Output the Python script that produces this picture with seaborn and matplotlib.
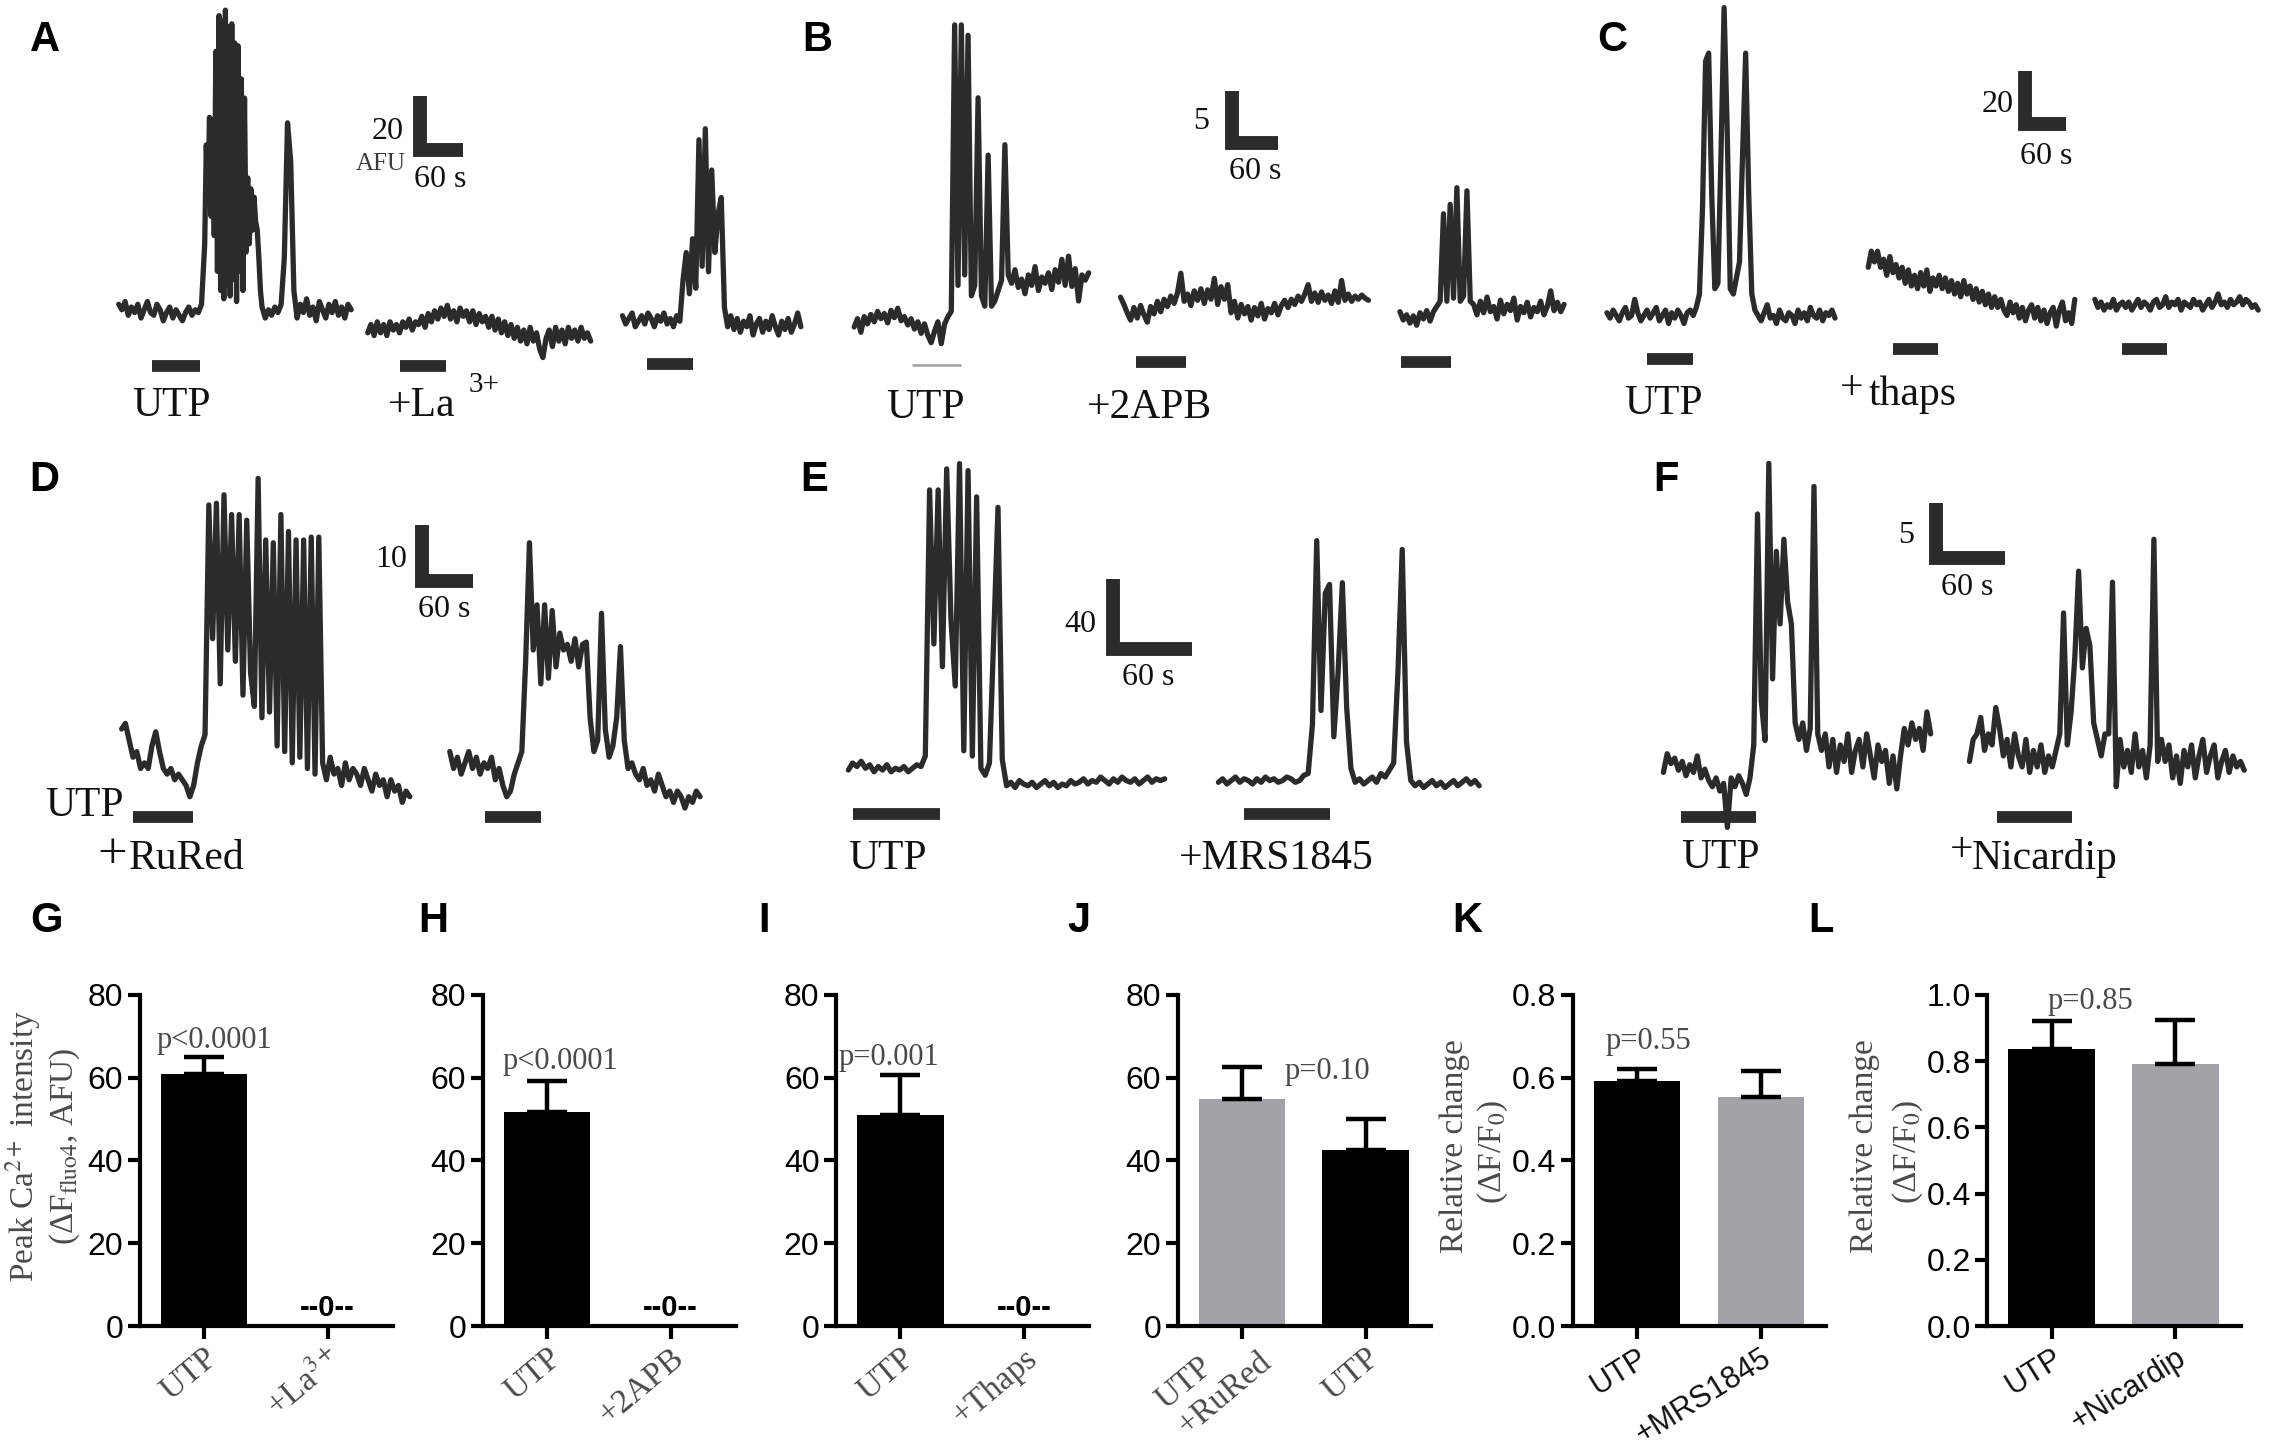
import numpy as np
import pandas as pd
import matplotlib
matplotlib.use("Agg")
import matplotlib.pyplot as plt
import seaborn as sns
from matplotlib import font_manager as fm

sns.set_style("white")
_names = {f.name for f in fm.fontManager.ttflist}
SERIF = "Liberation Serif"
SANS = "Liberation Sans"
NARROW = "Liberation Sans Narrow" if "Liberation Sans Narrow" in _names else "Liberation Sans"
plt.rcParams["font.family"] = [SANS, "DejaVu Sans"]
plt.rcParams["mathtext.fontset"] = "stix"

# ------------------------------------------------------------------ data
# Ca2+ traces: values in AFU relative to each trace's resting level,
# sampled at a fixed interval (seconds) per panel.
dt_A, dt_B, dt_C, dt_D, dt_E, dt_F = 4.4, 4.45, 4.53, 4.44, 3.21, 3.25
dt_A_burst = 2.2

trace_A_utp_pre = [3, 1, 4, -1, 2, 0, 3, -2, 1, 4, 0, -1, 3, 1, -3, 0, 2, -2, 1, -1, -3, 0, 2, -1, 1, 0, 3]
trace_A_utp_burst = [25, 61, 40, 71, 35, 70, 28, 95, 15, 108, 8, 106, 5, 110, 10, 104, 6, 105, 12,
                     98, 4, 97, 15, 85, 8, 78, 22, 49, 25, 45, 30, 42, 33, 30, 20, 8, 2]
trace_A_utp_post = [-2, 1, -1, 2, 0, 3,
                    20, 69, 55, 8,
                    -2, 3, 0, 5, -1, 2, -3, 4, 1, -2, 3, 0, 4, -1, 2, -2, 3, 1]
trace_A_la = [0, 3, -1, 4, 0, 3, -1, 4, 1, 3, 0, 4, 2, 5, 1, 4,
              3, 6, 2, 7, 4, 8, 5, 9, 6, 10, 5, 8, 4, 9, 6,
              8, 4, 8, 3, 7, 4, 6, 2, 6, 1, 5, 0, 4, -1,
              3, -2, 2, -3, 1, -4, 2, -3, 0, -6, -9, -2, 1, -5, 2,
              -3, 1, -4, 2, -2, 1, -3, 2, -2, 0, -3]
trace_A_wash = [2, -1, 1, 3, -2, 0, 2, -1, 3, 1, -2, 2, 0, 3, -1, 1, -2, 2, 0,
                15, 25, 10, 30, 12, 66, 20, 70, 18, 55, 25, 39, 45, 5,
                -2, 2, -3, 1, -4, 0, -2, 2, -5, -1, 1, -4, 0, -3, 2, -2, -5, 0, -3, 1, -4, -1, 3, -2]

trace_B_utp = [0, 0.8, -0.5, 1.0, 0.3, 1.2, 0.5, 1.5, 0.8, 1.3, 0.4, 1.6, 0.9, 1.8, 0.6, 1.0, 0.2, 0.8,
               -0.2, 0.5, -0.6, 0.3, -0.8, -1.5, -0.4, 0.5,
               -1.6, 0.3, 1.0, 1.5,
               29, 4, 29, 5, 28, 3, 4, 22, 3, 2, 16.5, 2, 2.5, 3.5, 4.5, 17.5, 5,
               4.2, 5.5, 3.8, 4.6, 3.2, 5.0, 4.0, 5.8, 3.5, 4.8, 4.2, 5.2, 3.6, 5.5, 4.3, 6.5,
               4.0, 6.8, 3.9, 5.6, 2.5, 5.0, 4.5, 5.2]
trace_B_2apb = [1.2, 0.5, -0.3, -1.0, 0.2, -0.8, 0.4, -0.5, -1.2, 0.3, -0.4, 0.8, -0.2, 1.0, 0.3, 1.3, 0.6, 1.6,
                3.5, 0.8, 1.5, 0.4, 1.8, 0.9, 2.0, 0.6, 1.9, 1.0, 3.0, 0.5, 2.2, 1.0, 2.4, -0.3,
                0.8, -0.8, 0.5, -0.4, 0.3, -1.0, 0.2, -0.6, 0.6, -0.9, 0.1, -0.3, 0.6, -0.5, 0.4,
                0.9, 0.2, 1.0, 0.5, 1.3, 0.8, 1.5, 2.4, 0.8, 1.6, 0.7, 1.7, 0.9, 1.4, 0.6, 1.8, 0.7,
                2.8, 0.9, 1.5, 0.8, 1.3, 1.0, 1.4, 1.1, 0.9]
trace_B_wash = [0.5, -0.3, 0.2, -0.6, 0.1, -0.8, 0.4, -0.2, 0.6, -0.4, 0.5, 1.0, 1.5,
                9.9, 1.5, 10.8, 1.8, 12.4, 1.5, 2.0, 12.1, 1.5,
                1.2, 0.2, 1.5, 0.4, 1.9, 0.5, 1.0, -0.2, 1.6, 0.3, 1.2, 0.6, 1.8, -0.3,
                1.0, 0.4, 1.4, 0.0, 0.9, 0.5, 1.5, 0.2, 1.0, 2.5, 0.6, 1.4, 0.5, 1.2]

trace_C_utp = [1, -1, 2, 0, -2, 1, 3, -1, 0, 6, 1, -2, 0, 2, -1, 1, 3, -2, 0, 2,
               -3, 1, -1, 2, 0, -3, 1, 2, 0, 3,
               8, 40, 95, 98, 45, 10, 12, 60, 115, 70, 10, 8, 14, 20, 60, 98, 45, 8, 2,
               0, -2, 1, 4, -1, 0, -3, 2, -1, -2, 1, 0, -3, 2, -1, 1, -2, 3, 0, -1, 2, -2, 1, 0, 2, -1]
trace_C_thaps = [18, 24, 20, 24, 18, 21, 15, 22, 16, 19, 14,
                 18, 12, 17, 11, 15, 10, 16, 11, 17, 9, 14, 11, 15, 10, 14,
                 9, 13, 8, 12, 7, 13, 8, 11, 6, 10, 5, 9, 4, 8, 3,
                 7, 3, 6, 2, 0, 5, 1, 4, -1, 3, -2, 2, 4, -1, 3,
                 -2, 2, -3, 1, 3, -4, 2, 5, -2, 1, -3, 6]
trace_C_wash = [6, 3, 5, 2, 4, 3, 6, 2, 4, 5, 3, 5, 2, 4, 6, 3, 5, 4, 2, 5,
                6, 3, 4, 7, 3, 5, 4, 6, 2, 5, 4, 3, 6, 4, 5, 2, 4, 6, 3, 5,
                8, 4, 5, 3, 6, 4, 5, 7, 4, 6, 5, 3, 4, 2]

trace_D_rured = [8, 9, 6, 3, 4, 1, 2, 1, 5, 7.5, 4, 1, 0, 1, -1, 0, -1, -2, -4, -2, 2, 5, 7,
                 47.7, 24, 48, 16, 49.5, 22, 46, 20, 46, 14, 45, 18, 12, 52.4, 10, 41.5, 11, 41, 5,
                 46, 4, 43, 2, 41.5, 3, 41.5, 1, 42, 0, 42,
                 2, -1, 3, 0, 1, -2, 2, -1, 1, 0, -2, 1, -1, -3, 0, -2, -1, -4, -1, -3, -2, -5, -3, -4]
trace_D_wash = [4, 1, 3, 0, 2, 4, 1, 3, 0, 2, 1, 3, -1, 1, -2, -4, -3, 0,
                2, 4, 20, 41, 22, 30, 16, 30, 17, 29, 19, 25, 22, 23, 20, 24, 19, 23, 23.4, 10, 4, 6,
                28.5, 8, 3, 5, 10, 22.6, 6, 1,
                2, 0, -1, 1, -2, -1, -3, 0, -2, -4, -3, -5, -3, -4, -6, -4, -5, -3, -4]

trace_E_utp = [4, 8, 6, 9, 5, 7, 3, 6, 4, 7, 3, 5, 4, 6, 3, 5, 7, 6,
               12, 164, 76, 164, 63, 176, 90, 52, 179, 15, 175, 12, 160, 5, 1, 8, 80, 154, 10,
               -5, -3, -6, -2, -4, -5, -3, -6, -4, -2, -5, -3, -6, -4, -5, -2, -4, -3, -1,
               -4, -2, -3, 0, -2, -4, -1, -3, 0, -2, -3, -1, -4, -2, 0, -3, -1, -2, -1]
trace_E_mrs = [-3, -1, -4, -2, 0, -3, -1, -2, -4, -1, -3, 0, -2, -1, -3, -2, 0, -1, -3, -2, 1,
               2, 30, 135, 38, 105, 110, 23, 60, 111, 40, 5, -3,
               -1, -4, -2, 0, -3, 2, 0, 4, 8,
               60, 130, 20, -2,
               -5, -3, -6, -4, -2, -5, -3, -6, -4, -2, -5, -3, -1, -4, -2, -5]

trace_F_utp = [-0.5, 1.2, 0.3, 0.8, -0.3, 0.5, -0.8, 0.2, -0.5, 1.0, -1.0, -0.2, -1.2, -1.8, -1.0,
               -2.2, -1.5, -5.5, -1.0, -1.8, -0.8, -1.5, -2.5, -1.0,
               2, 23, 6, 2.4, 27.6, 8, 19.6, 13, 20.7, 15, 13, 4,
               2.5, 4.0, 1.5, 3.5, 25.5, 3,
               1.5, 3.0, 0.0, 2.5, -0.5, 2.0, 0.5, 3.0, -0.5, 1.5, 2.5, 0.0, 3.0, 1.0, -1.0,
               2.0, 0.5, 1.5, -1.5, 1.0, -2.0, 1.0, 3.5, 2.0, 4.0, 2.5, 3.5, 1.5, 5.0, 3.0]
trace_F_nic = [0.5, 2.5, 3.0, 4.5, 1.5, 3.0, 2.0, 5.4, 3.5, 1.0, 2.5, 0.0, 3.0, 1.0, 0.0, 2.5,
               -0.5, 1.5, 0.0, 2.0, -0.5, 1.0, 0.0, 1.5,
               3.0, 14.0, 2.0, 5.0, 10.0, 17.8, 9.0, 12.6, 11.0, 4.0,
               2.5, 1.0, 3.0, 3.0, 16.8, -1.8,
               2.5, 0.0, 1.5, -0.5, 3.0, 0.0, 1.5, -1.0, 2.0, 20.7, 0.5,
               2.5, 0.5, 2.0, -1.0, 1.0, -1.5, 1.5, 0.0, 2.0, -1.0, 1.0, 2.5, -0.5, 1.0, 2.0,
               -1.0, 0.5, 1.5, -0.5, 1.0, 0.0, 0.5, -0.3]

# summary bar charts
G_groups = ["UTP", "+La3+"];          G_values = [60.8, 0.0];    G_err = [4.2, 0.0]
H_groups = ["UTP", "+2APB"];          H_values = [51.8, 0.0];    H_err = [7.3, 0.0]
I_groups = ["UTP", "+Thaps"];         I_values = [51.0, 0.0];    I_err = [9.7, 0.0]
J_groups = ["UTP\n+RuRed", "UTP"];    J_values = [54.8, 42.5];   J_err = [7.7, 7.6]
K_groups = ["UTP", "+MRS1845"];       K_values = [0.592, 0.554]; K_err = [0.028, 0.061]
L_groups = ["UTP", "+Nicardip"];      L_values = [0.835, 0.792]; L_err = [0.085, 0.133]
p_labels = ["p<0.0001", "p<0.0001", "p=0.001", "p=0.10", "p=0.55", "p=0.85"]
ticks_afu = [0, 20, 40, 60, 80]
ticks_K = [0.0, 0.2, 0.4, 0.6, 0.8]
ticks_L = [0.0, 0.2, 0.4, 0.6, 0.8, 1.0]

# ------------------------------------------------------------------ layout helpers
W, H = 1568.0, 1000.0
fig = plt.figure(figsize=(22.70, 14.47), dpi=100)
fig.patch.set_facecolor("white")

TRACE = "#2b2b2b"
BLACK = "#000000"
GREY = "#a3a3a7"
TXT_GREY = "#4a4a4a"
TRACE_LW = 3.8


def fx(x):
    return x / W


def fy(y):
    return 1.0 - y / H


def txt(x, y, s, size, family=SERIF, color="#111111", ha="left", va="baseline", **kw):
    fig.text(fx(x), fy(y), s, fontsize=size, family=family, color=color, ha=ha, va=va, **kw)


def trace_axes():
    ax = fig.add_axes([0, 0, 1, 1])
    ax.axis("off")
    ax.patch.set_alpha(0)
    return ax


def draw_pieces(ax, pieces, x0, base, px_s, px_afu):
    """pieces: list of (values, dt) drawn as one continuous trace."""
    ts, ys = [], []
    t_next = x0 / px_s
    prev_dt = None
    for vals, dt in pieces:
        v = np.asarray(vals, float)
        if prev_dt is not None:
            t_next += max(prev_dt, dt) - prev_dt
        t = t_next + dt * np.arange(len(v))
        ts.append(t)
        ys.append((H - base) / px_afu + v)
        t_next = t[-1] + dt
        prev_dt = dt
    sns.lineplot(x=np.concatenate(ts), y=np.concatenate(ys), ax=ax, color=TRACE,
                 linewidth=TRACE_LW, estimator=None, sort=False, legend=False)


def draw_trace(ax, vals, dt, x0, base, px_s, px_afu):
    draw_pieces(ax, [(vals, dt)], x0, base, px_s, px_afu)


def stim(ax, xa, xb, y, px_s, px_afu, lw=8.5, color=TRACE):
    ax.plot([xa / px_s, xb / px_s], [(H - y) / px_afu] * 2, color=color, lw=lw,
            solid_capstyle="butt")


def scale_bar(ax, cx, cy, afu, px_s, px_afu, sec=60):
    x0 = cx / px_s
    y0 = (H - cy) / px_afu
    ax.plot([x0, x0, x0 + sec], [y0 + afu, y0, y0], color=TRACE, lw=10,
            solid_joinstyle="miter", solid_capstyle="butt")


def finish(ax, px_s, px_afu):
    ax.set_xlim(0, W / px_s)
    ax.set_ylim(0, H / px_afu)


# ------------------------------------------------------------------ panel A
s, a = 0.5, 1.9
ax = trace_axes()
draw_pieces(ax, [(trace_A_utp_pre, dt_A), (trace_A_utp_burst, dt_A_burst),
                 (trace_A_utp_post, dt_A)], 82, 216, s, a)
draw_trace(ax, trace_A_la, dt_A, 254, 230, s, a)
draw_trace(ax, trace_A_wash, dt_A, 430, 222, s, a)
stim(ax, 105, 138, 253, s, a)
stim(ax, 276, 308, 253, s, a)
stim(ax, 447, 479, 251.5, s, a)
scale_bar(ax, 290, 104, 20, s, a)
finish(ax, s, a)
txt(279, 95.8, "20", 23, ha="right")
txt(280, 117.6, "AFU", 18, ha="right", color="#3a3a3a")
txt(286, 129, "60 s", 23)
txt(91, 287.5, "UTP", 30)
txt(268, 287.5, "+La", 30)
txt(324, 271, "3+", 21)

# ------------------------------------------------------------------ panel B
s, a = 0.52, 7.2
ax = trace_axes()
draw_trace(ax, trace_B_utp, dt_B, 590, 226, s, a)
draw_trace(ax, trace_B_2apb, dt_B, 774, 214, s, a)
draw_trace(ax, trace_B_wash, dt_B, 967, 219, s, a)
stim(ax, 630, 664, 252, s, a, lw=1.8, color="#a0a0a0")
stim(ax, 785, 819, 250.5, s, a)
stim(ax, 967.5, 1002, 250.5, s, a)
scale_bar(ax, 851.3, 98.7, 5, s, a)
finish(ax, s, a)
txt(835, 89, "5", 23, ha="right")
txt(849, 124, "60 s", 23)
txt(612, 288.7, "UTP", 30)
txt(751, 288.7, "+2APB", 30)

# ------------------------------------------------------------------ panel C
s, a = 0.47, 1.85
ax = trace_axes()
draw_trace(ax, trace_C_utp, dt_C, 1110, 218, s, a)
draw_trace(ax, trace_C_thaps, dt_C, 1290.5, 218, s, a)
draw_trace(ax, trace_C_wash, dt_C, 1447, 218, s, a)
stim(ax, 1137.6, 1169.5, 248, s, a)
stim(ax, 1307.8, 1339, 241, s, a)
stim(ax, 1466, 1497, 241, s, a)
scale_bar(ax, 1399, 86, 20, s, a)
finish(ax, s, a)
txt(1391, 77.4, "20", 23, ha="right")
txt(1395, 113.2, "60 s", 23)
txt(1122, 286.4, "UTP", 30)
txt(1271, 275.5, "+", 30)
txt(1291, 280, "thaps", 30)

# ------------------------------------------------------------------ panel D
s, a = 0.59, 3.9
ax = trace_axes()
draw_trace(ax, trace_D_rured, dt_D, 84, 535, s, a)
draw_trace(ax, trace_D_wash, dt_D, 310.7, 535, s, a)
stim(ax, 92, 133, 564.5, s, a)
stim(ax, 335, 374, 564.5, s, a)
scale_bar(ax, 291.6, 401.6, 10, s, a)
finish(ax, s, a)
txt(281, 391.8, "10", 23, ha="right")
txt(289, 426.4, "60 s", 23)
txt(31, 563.8, "UTP", 30)
txt(67, 600, "+", 38)
txt(89, 600.8, "RuRed", 30)

# ------------------------------------------------------------------ panel E
s, a = 0.92, 1.21
ax = trace_axes()
draw_trace(ax, trace_E_utp, dt_E, 586, 537, s, a)
draw_trace(ax, trace_E_mrs, dt_E, 841.6, 537, s, a)
stim(ax, 589, 649, 562.5, s, a)
stim(ax, 859, 919, 562.5, s, a)
scale_bar(ax, 768.5, 448.5, 40, s, a)
finish(ax, s, a)
txt(757, 436.8, "40", 23, ha="right")
txt(775, 473.7, "60 s", 23)
txt(586, 600.5, "UTP", 30)
txt(814, 600.5, "+MRS1845", 30)

# ------------------------------------------------------------------ panel F
s, a = 0.8, 7.6
ax = trace_axes()
draw_trace(ax, trace_F_utp, dt_F, 1149, 530, s, a)
draw_trace(ax, trace_F_nic, dt_F, 1360.4, 530, s, a)
stim(ax, 1161.3, 1213, 564.5, s, a)
stim(ax, 1379.5, 1431.2, 564.5, s, a)
scale_bar(ax, 1337, 385.5, 5, s, a)
finish(ax, s, a)
txt(1322.5, 375.6, "5", 23, ha="right")
txt(1341, 411.4, "60 s", 23)
txt(1161, 599.6, "UTP", 30)
txt(1347, 595, "+", 30)
txt(1362, 600.8, "Nicardip", 30)

# ------------------------------------------------------------------ bar panels
AX_TOP, AX_BOT, AX_W = 687.5, 916.5, 175.0


def bar_panel(left, groups, values, errs, colors, ymax, yticks, ytick_fmt,
              tick_labels, tick_family, tick_color, tick_size, rot):
    ax = fig.add_axes([fx(left), fy(AX_BOT), AX_W / W, (AX_BOT - AX_TOP) / H])
    df = pd.DataFrame({"group": groups, "value": values})
    sns.barplot(data=df, x="group", y="value", hue="group", order=groups,
                hue_order=groups, palette=dict(zip(groups, colors)), width=0.7,
                saturation=1, legend=False, errorbar=None, ax=ax, linewidth=0)
    xs = np.arange(len(values))
    up = np.asarray(errs, float)
    m = up > 0
    ax.errorbar(xs[m], np.asarray(values, float)[m], yerr=[np.zeros(m.sum()), up[m]],
                fmt="none", ecolor="black", elinewidth=3.2, capsize=14.5, capthick=3.2,
                zorder=4)
    for i, v in enumerate(values):
        if v == 0:
            ax.annotate("--0--", xy=(i, 0), xytext=(0, 3), textcoords="offset points",
                        ha="center", va="bottom", fontsize=21, fontweight="bold",
                        family=NARROW, color="black")
    ax.set_xlim(-0.52, 1.53)
    ax.set_ylim(0, ymax)
    ax.set_yticks(yticks)
    ax.set_yticklabels([ytick_fmt.format(t) for t in yticks], fontfamily=NARROW,
                       fontsize=23, color="black")
    ax.set_xticks(xs)
    ax.set_xticklabels(tick_labels, rotation=rot, ha="right", va="top",
                       rotation_mode="anchor", fontfamily=tick_family,
                       fontsize=tick_size, color=tick_color)
    ax.tick_params(axis="both", which="major", direction="out", length=9, width=3,
                   color="black", pad=3, bottom=True, left=True)
    ax.set_xlabel("")
    ax.set_ylabel("")
    sns.despine(ax=ax)
    for sp in ("left", "bottom"):
        ax.spines[sp].set_linewidth(3)
        ax.spines[sp].set_color("black")
    ax.patch.set_alpha(0)
    return ax


bar_panel(96.5, G_groups, G_values, G_err, [BLACK, BLACK], 80, ticks_afu, "{:.0f}",
          ["UTP", "+La$^{3+}$"], SERIF, TXT_GREY, 24, 40)
bar_panel(333.5, H_groups, H_values, H_err, [BLACK, BLACK], 80, ticks_afu, "{:.0f}",
          H_groups, SERIF, TXT_GREY, 24, 40)
bar_panel(577.5, I_groups, I_values, I_err, [BLACK, BLACK], 80, ticks_afu, "{:.0f}",
          I_groups, SERIF, TXT_GREY, 24, 40)
axJ = bar_panel(813.5, J_groups, J_values, J_err, [GREY, BLACK], 80, ticks_afu, "{:.0f}",
                ["", J_groups[1]], SERIF, TXT_GREY, 24, 40)
axJ.annotate(J_groups[0], xy=(0, 0), xycoords=("data", "axes fraction"),
             xytext=(-36, -83), textcoords="offset points", rotation=40,
             rotation_mode="anchor", ha="left", va="bottom", multialignment="left",
             linespacing=1.15, fontsize=24, family=SERIF, color=TXT_GREY,
             annotation_clip=False)
bar_panel(1086.5, K_groups, K_values, K_err, [BLACK, GREY], 0.8, ticks_K, "{:.1f}",
          K_groups, SANS, "#111111", 22, 32)
bar_panel(1372.8, L_groups, L_values, L_err, [BLACK, GREY], 1.0, ticks_L, "{:.1f}",
          L_groups, SANS, "#111111", 22, 32)

# p-values
txt(108, 724, p_labels[0], 22, color=TXT_GREY)
txt(347, 738.6, p_labels[1], 22, color=TXT_GREY)
txt(579, 736, p_labels[2], 22, color=TXT_GREY)
txt(887, 746, p_labels[3], 22, color=TXT_GREY)
txt(1109, 725, p_labels[4], 22, color=TXT_GREY)
txt(1414, 697, p_labels[5], 22, color=TXT_GREY)

# y-axis titles
txt(16, 792, "Peak Ca$^{2+}$ intensity", 24, color=TXT_GREY, ha="center", va="center",
    rotation=90)
txt(45, 792, "(ΔF$_{\\mathrm{fluo4}}$, AFU)", 24, color=TXT_GREY, ha="center",
    va="center", rotation=90)
txt(1005, 792, "Relative change", 24, color=TXT_GREY, ha="center", va="center",
    rotation=90)
txt(1031, 796, "(ΔF/F$_{0}$)", 24, color=TXT_GREY, ha="center", va="center",
    rotation=90)
txt(1288, 792, "Relative change", 24, color=TXT_GREY, ha="center", va="center",
    rotation=90)
txt(1318, 796, "(ΔF/F$_{0}$)", 24, color=TXT_GREY, ha="center", va="center",
    rotation=90)

# panel letters
for letter, x, y in [("A", 21, 35), ("B", 554, 35), ("C", 1103, 35),
                     ("D", 20, 339), ("E", 553, 339), ("F", 1142, 339),
                     ("G", 21, 644), ("H", 289, 644), ("I", 524, 644),
                     ("J", 737, 644), ("K", 1003, 644), ("L", 1249, 644)]:
    txt(x, y, letter, 30, family=SANS, color="black", fontweight="bold")

fig.savefig("out.png", dpi=100, facecolor="white")
